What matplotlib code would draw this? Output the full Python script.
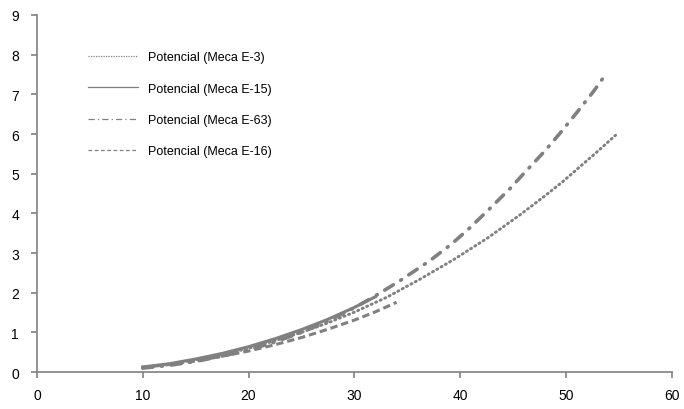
import matplotlib
matplotlib.use("Agg")
import matplotlib.pyplot as plt
from matplotlib.lines import Line2D

plt.rcParams['font.family'] = ['Liberation Sans', 'DejaVu Sans']

x_e3 = [10, 12.5, 15, 17.5, 20, 22.5, 25, 27.5, 30, 33.1, 36.2, 39.3,
        42.6, 45.7, 48.2, 49.7, 51.3, 52.9, 54.7]
y_e3 = [0.12, 0.20, 0.31, 0.44, 0.60, 0.79, 1.00, 1.24, 1.51, 1.89, 2.34, 2.82,
        3.38, 3.97, 4.48, 4.80, 5.17, 5.54, 5.97]

x_e15 = [10, 12.5, 15, 17.5, 20, 22.5, 25, 27.5, 30, 32]
y_e15 = [0.13, 0.21, 0.33, 0.47, 0.64, 0.84, 1.07, 1.33, 1.63, 1.90]

x_e63 = [10, 12.5, 15, 17.5, 20, 22.5, 25, 27.5, 30, 31.8, 34.3, 37.1,
         39.2, 40.9, 42.8, 44.7, 45.9, 48, 49.6, 51, 52.6, 53.7]
y_e63 = [0.10, 0.17, 0.27, 0.40, 0.56, 0.76, 1.00, 1.28, 1.62, 1.89, 2.30, 2.80,
         3.23, 3.63, 4.12, 4.62, 4.97, 5.57, 6.07, 6.53, 7.07, 7.48]

x_e16 = [10, 12.5, 15, 17.5, 20, 22.5, 25, 27.5, 30, 32, 34]
y_e16 = [0.12, 0.19, 0.28, 0.40, 0.53, 0.69, 0.87, 1.08, 1.31, 1.52, 1.76]

labels = ["Potencial (Meca E-3)", "Potencial (Meca E-15)",
          "Potencial (Meca E-63)", "Potencial (Meca E-16)"]

gray = "#808080"

fig = plt.figure(figsize=(6.84, 4.10), dpi=100)
ax = fig.add_axes([0.054, 0.090, 0.928, 0.871])

ax.plot(x_e3, y_e3, color=gray, lw=2.1, linestyle=(0, (0.4, 1.3)), dash_capstyle='round')
ax.plot(x_e15, y_e15, color=gray, lw=2.2, linestyle='-')
ax.plot(x_e63, y_e63, color=gray, lw=2.6, linestyle=(0, (2.8, 2.4, 0.3, 2.4)),
        dash_capstyle='round')
ax.plot(x_e16, y_e16, color=gray, lw=2.2, linestyle=(0, (2.4, 1.3)))

ax.set_xlim(0, 60)
ax.set_ylim(0, 9)
ax.set_xticks(range(0, 61, 10))
ax.set_yticks(range(0, 10))

for s in ['top', 'right']:
    ax.spines[s].set_visible(False)
for s in ['left', 'bottom']:
    ax.spines[s].set_color(gray)
    ax.spines[s].set_linewidth(1.2)
ax.tick_params(axis='both', colors=gray, labelcolor='black', labelsize=10,
               length=4, width=1.2, direction='out')
ax.tick_params(axis='x', pad=7.5)
ax.tick_params(axis='y', pad=9)

handles = [
    Line2D([], [], color=gray, lw=0.9, linestyle=(0, (1, 1))),
    Line2D([], [], color=gray, lw=0.9, linestyle='-'),
    Line2D([], [], color=gray, lw=0.9, linestyle=(0, (5, 2.5, 1, 2.5))),
    Line2D([], [], color=gray, lw=0.9, linestyle=(0, (3, 2))),
]
ax.legend(handles, labels, loc='upper left', bbox_to_anchor=(0.063, 0.93),
          frameon=False, fontsize=9, handlelength=4.0, handletextpad=0.8,
          labelspacing=1.55)

fig.savefig("out.png", dpi=100)
